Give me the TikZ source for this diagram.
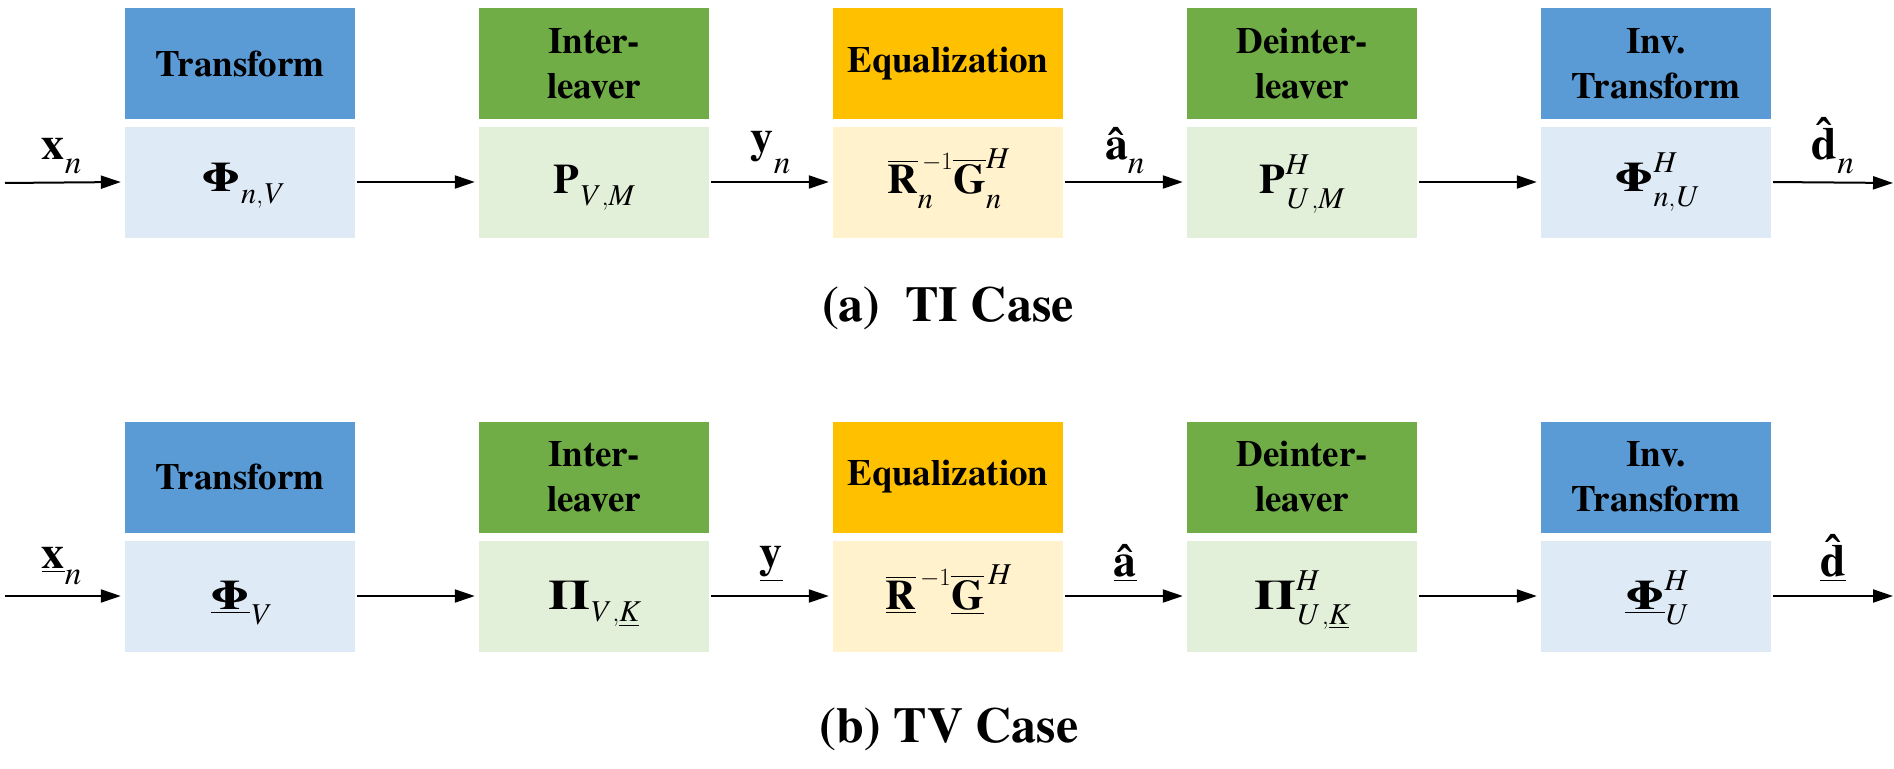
\documentclass[tikz,border=0pt]{standalone}
\usepackage{amsmath}
\usepackage{graphicx}
\usepackage{fontspec}
\setmainfont{texgyretermes}[
  Extension=.otf,
  UprightFont=*-regular,
  BoldFont=*-bold,
  ItalicFont=*-italic,
  BoldItalicFont=*-bolditalic]
\usetikzlibrary{arrows.meta}

\definecolor{hdblue}{HTML}{5B9BD5}
\definecolor{bdblue}{HTML}{DEEBF7}
\definecolor{hdgreen}{HTML}{70AD47}
\definecolor{bdgreen}{HTML}{E2F0D9}
\definecolor{hdgold}{HTML}{FFC000}
\definecolor{bdgold}{HTML}{FFF2CC}

% bold upright and italic letters taken from the text font
\newcommand{\bfv}[1]{\text{\normalfont\bfseries #1}}
\newcommand{\itv}[1]{\text{\normalfont\itshape #1}}
% wide bold Greek capitals
\newcommand{\bfg}[1]{\text{\normalfont\bfseries\scalebox{1.28}[1]{#1}}}
% bold letter with a circumflex from the text font
\newcommand{\hatv}[1]{\text{\normalfont\bfseries\accent"02C6 #1}}
% index set a little lower than TeX puts it
\newcommand{\dn}[1]{\raisebox{-0.22em}{$\scriptstyle #1$}}
\renewcommand{\defaultscriptratio}{0.72}

\tikzset{
  headbox/.style={minimum width=230pt, minimum height=111pt, inner sep=0pt,
    align=center, font=\fontsize{37}{45}\selectfont\bfseries},
  bodybox/.style={minimum width=230pt, minimum height=111pt, inner sep=0pt,
    font=\fontsize{42}{48}\selectfont},
  bodytext/.style={inner sep=0pt, font=\fontsize{42}{48}\selectfont},
  sig/.style={inner sep=0pt, font=\fontsize{46}{52}\selectfont},
  flow/.style={line width=2pt, -{Triangle[length=20pt,width=13pt]},
    shorten <=2pt, shorten >=4pt},
  caption/.style={inner sep=0pt, anchor=base, font=\fontsize{50}{60}\selectfont\bfseries}
}

\begin{document}
\begin{tikzpicture}[x=1pt, y=-1pt]
\useasboundingbox (0,0) rectangle (1894,768);

% ---------------- (a) TI case ----------------
\node[headbox, fill=hdblue]  (aT1) at (240,63.5)  {Transform};
\node[headbox, fill=hdgreen] (aT2) at (594,63.5)  {Inter-\\leaver};
\node[headbox, fill=hdgold]  (aT3) at (948,63.5)  {Equalization};
\node[headbox, fill=hdgreen] (aT4) at (1302,63.5) {Deinter-\\leaver};
\node[headbox, fill=hdblue]  (aT5) at (1656,63.5) {Inv.\\Transform};

\node[bodybox, fill=bdblue]  (aB1) at (240,182)  {};
\node[bodybox, fill=bdgreen] (aB2) at (594,182)  {};
\node[bodybox, fill=bdgold]  (aB3) at (948,182)  {};
\node[bodybox, fill=bdgreen] (aB4) at (1302,182) {};
\node[bodybox, fill=bdblue]  (aB5) at (1656,182) {};

\node[bodytext, anchor=base] (aM1) at (242,191)  {$\bfg{Φ}_{\dn{\itv{n},\itv{V}}}$};
\node[bodytext, anchor=base] (aM2) at (594,193)  {$\bfv{P}_{\dn{\itv{V}\,,\itv{M}}}$};
\node[bodytext, anchor=base] (aM3) at (948,193)  {$\overline{\bfv{R}}_{\dn{\itv{n}}}^{\,-1}\overline{\bfv{G}}_{\dn{\itv{n}}}^{\itv{H}}$};
\node[bodytext, anchor=base] (aM4) at (1302,193) {$\bfv{P}_{\dn{\itv{U}\,,\itv{M}}}^{\itv{H}}$};
\node[bodytext, anchor=base] (aM5) at (1656,191) {$\bfg{Φ}_{\dn{\itv{n},\itv{U}}}^{\itv{H}}$};

\coordinate (aIn)  at (3,183);
\coordinate (aOut) at (1897,183);

\draw[flow] (aIn) -- (aB1.west);
\draw[flow] (aB1.east) -- (aB2.west);
\draw[flow] (aB2.east) -- (aB3.west);
\draw[flow] (aB3.east) -- (aB4.west);
\draw[flow] (aB4.east) -- (aB5.west);
\draw[flow] (aB5.east) -- (aOut);

\node[sig, anchor=south] (aL1) at (62,174)   {$\bfv{x}_{\dn{\itv{n}}}$};
\node[sig, anchor=south] (aL2) at (771,174)  {$\bfv{y}_{\dn{\itv{n}}}$};
\node[sig, anchor=south] (aL3) at (1125,174) {$\hatv{a}_{\dn{\itv{n}}}$};
\node[sig, anchor=south] (aL4) at (1833,174) {$\hatv{d}_{\dn{\itv{n}}}$};

\node[caption] (capA) at (948,321) {(a)\ \ TI Case};

% ---------------- (b) TV case ----------------
\node[headbox, fill=hdblue]  (bT1) at (240,477)  {Transform};
\node[headbox, fill=hdgreen] (bT2) at (594,477)  {Inter-\\leaver};
\node[headbox, fill=hdgold]  (bT3) at (948,477)  {Equalization};
\node[headbox, fill=hdgreen] (bT4) at (1302,477) {Deinter-\\leaver};
\node[headbox, fill=hdblue]  (bT5) at (1656,477) {Inv.\\Transform};

\node[bodybox, fill=bdblue]  (bB1) at (240,596)  {};
\node[bodybox, fill=bdgreen] (bB2) at (594,596)  {};
\node[bodybox, fill=bdgold]  (bB3) at (948,596)  {};
\node[bodybox, fill=bdgreen] (bB4) at (1302,596) {};
\node[bodybox, fill=bdblue]  (bB5) at (1656,596) {};

\node[bodytext, anchor=base] (bM1) at (240,609)  {$\underline{\bfg{Φ}}_{\dn{\itv{V}}}$};
\node[bodytext, anchor=base] (bM2) at (594,609)  {$\bfg{Π}_{\dn{\itv{V}\,,\underline{\itv{K}}}}$};
\node[bodytext, anchor=base] (bM3) at (948,609)  {$\underline{\overline{\bfv{R}}}^{\,-1}\underline{\overline{\bfv{G}}}^{\,\itv{H}}$};
\node[bodytext, anchor=base] (bM4) at (1302,609) {$\bfg{Π}_{\dn{\itv{U}\,,\underline{\itv{K}}}}^{\itv{H}}$};
\node[bodytext, anchor=base] (bM5) at (1656,609) {$\underline{\bfg{Φ}}_{\dn{\itv{U}}}^{\itv{H}}$};

\coordinate (bIn)  at (3,596);
\coordinate (bOut) at (1897,596);

\draw[flow] (bIn) -- (bB1.west);
\draw[flow] (bB1.east) -- (bB2.west);
\draw[flow] (bB2.east) -- (bB3.west);
\draw[flow] (bB3.east) -- (bB4.west);
\draw[flow] (bB4.east) -- (bB5.west);
\draw[flow] (bB5.east) -- (bOut);

\node[sig, anchor=base] (bL1) at (62,568)   {$\underline{\bfv{x}}_{\dn{\itv{n}}}$};
\node[sig, anchor=south] (bL2) at (771,582)  {$\underline{\bfv{y}}$};
\node[sig, anchor=south] (bL3) at (1125,582) {$\underline{\hatv{a}}$};
\node[sig, anchor=south] (bL4) at (1833,582) {$\underline{\hatv{d}}$};

\node[caption] (capB) at (949,742) {(b) TV Case};
\end{tikzpicture}
\end{document}
